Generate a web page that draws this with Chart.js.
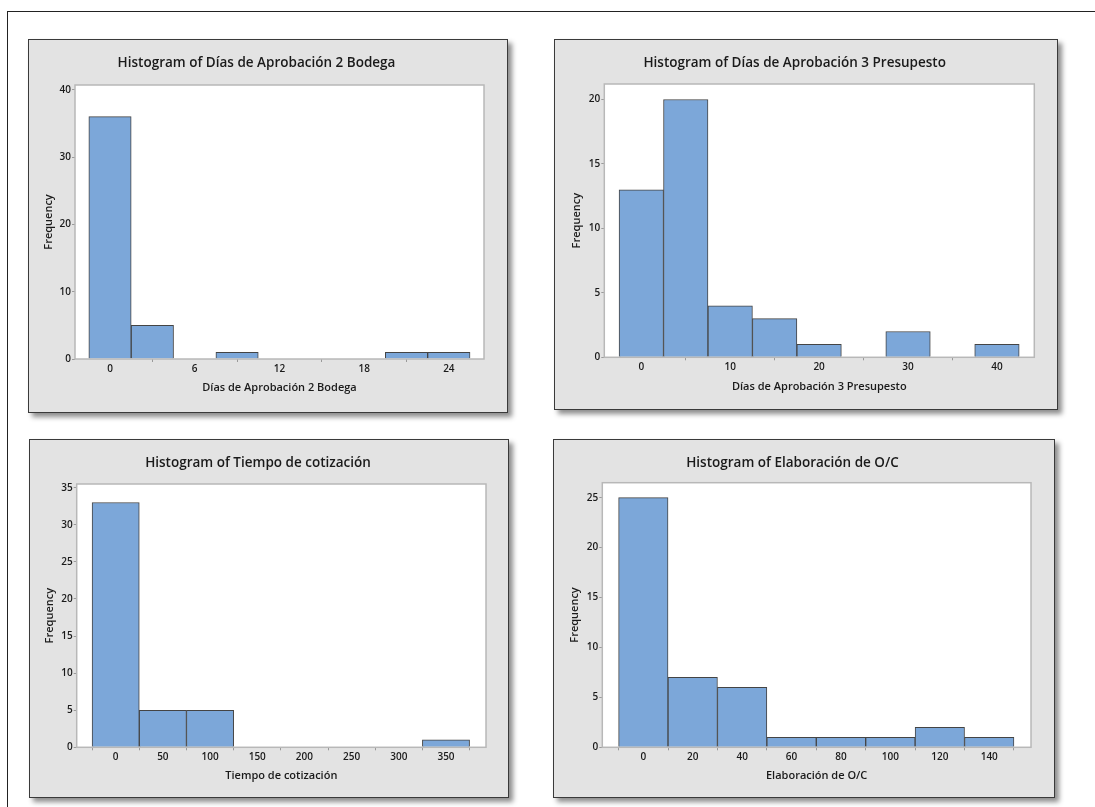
<!DOCTYPE html>
<html>
<head>
<meta charset="utf-8">
<script src="https://cdn.jsdelivr.net/npm/chart.js@4"></script>
<style>
  html, body { margin: 0; padding: 0; background: #fff; }
  body { width: 1095px; height: 807px; position: relative; overflow: hidden; }
  .frame { position: absolute; left: 7px; top: 11px; width: 1100px; height: 810px;
           border-top: 1px solid #222; border-left: 1px solid #222; }
  .panel { position: absolute; background: #e3e3e3; border: 1px solid #3a3a3a;
           box-shadow: 4px 4px 5px rgba(0,0,0,0.45); }
  .panel canvas { display: block; }
</style>
</head>
<body>
<div class="frame"></div>
<div class="panel" style="left:28px;top:39px;"><canvas id="c1" width="478" height="372"></canvas></div>
<div class="panel" style="left:554px;top:39px;"><canvas id="c2" width="502" height="369"></canvas></div>
<div class="panel" style="left:29px;top:439px;"><canvas id="c3" width="478" height="357"></canvas></div>
<div class="panel" style="left:553px;top:439px;"><canvas id="c4" width="500" height="357"></canvas></div>
<script>
// bin midpoints and counts
const binsBodega = [0, 3, 6, 9, 12, 15, 18, 21, 24]
const freqBodega = [36, 5, 0, 1, 0, 0, 0, 1, 1]
const xTicksBodega = [0, 6, 12, 18, 24]
const yTicksBodega = [0, 10, 20, 30, 40]

const binsPresupuesto = [0, 5, 10, 15, 20, 25, 30, 35, 40]
const freqPresupuesto = [13, 20, 4, 3, 1, 0, 2, 0, 1]
const xTicksPresupuesto = [0, 10, 20, 30, 40]
const yTicksPresupuesto = [0, 5, 10, 15, 20]

const binsCotizacion = [0, 50, 100, 150, 200, 250, 300, 350]
const freqCotizacion = [33, 5, 5, 0, 0, 0, 0, 1]
const xTicksCotizacion = [0, 50, 100, 150, 200, 250, 300, 350]
const yTicksCotizacion = [0, 5, 10, 15, 20, 25, 30, 35]

const binsOC = [0, 20, 40, 60, 80, 100, 120, 140]
const freqOC = [25, 7, 6, 1, 1, 1, 2, 1]
const xTicksOC = [0, 20, 40, 60, 80, 100, 120, 140]
const yTicksOC = [0, 5, 10, 15, 20, 25]

const FONT = "'Open Sans', 'Noto Sans', sans-serif"

// white plot area with a light grey frame, like Minitab
const plotFrame = {
  id: 'plotFrame',
  beforeDatasetsDraw(chart) {
    const { ctx, chartArea: a } = chart
    ctx.save()
    ctx.fillStyle = '#fff'
    ctx.fillRect(a.left, a.top, a.right - a.left, a.bottom - a.top)
    ctx.restore()
  },
  afterDatasetsDraw(chart) {
    const { ctx, chartArea: a } = chart
    ctx.save()
    ctx.strokeStyle = '#b8b8b8'
    ctx.lineWidth = 1.5
    ctx.strokeRect(a.left, a.top, a.right - a.left, a.bottom - a.top)
    ctx.restore()
  }
}

const makeHist = (id, cfg) => {
  const data = cfg.bins.map((b, i) => ({ x: b, y: cfg.freq[i] }))
  return new Chart(document.getElementById(id), {
    type: 'bar',
    data: {
      datasets: [{
        data,
        backgroundColor: '#7ca7d9',
        borderColor: '#444',
        borderWidth: 1,
        borderSkipped: 'start',
        barPercentage: 1,
        categoryPercentage: 1
      }]
    },
    options: {
      responsive: false,
      animation: false,
      devicePixelRatio: 1,
      layout: { padding: { left: 0, top: 0, right: cfg.padRight, bottom: 0 } },
      plugins: {
        legend: { display: false },
        tooltip: { enabled: false },
        title: {
          display: true,
          text: cfg.title,
          color: '#1a1a1a',
          font: { family: FONT, size: 13.5, weight: '600', lineHeight: 1.2 },
          padding: { top: cfg.titleY - 8.1, bottom: cfg.plotTop - cfg.titleY - 8.1 }
        }
      },
      scales: {
        x: {
          type: 'linear',
          min: cfg.xMin,
          max: cfg.xMax,
          offset: false,
          afterBuildTicks: s => { s.ticks = cfg.xTicks.map(v => ({ value: v })) },
          afterFit: s => { s.height = cfg.xHeight },
          grid: { drawOnChartArea: false, drawTicks: true, tickLength: 3, color: '#9a9a9a' },
          border: { display: false },
          ticks: { autoSkip: false, maxRotation: 0, padding: 1, color: '#1a1a1a',
                   font: { family: FONT, size: 10, weight: '600' } },
          title: { display: true, text: cfg.xLabel, color: '#1a1a1a',
                   font: { family: FONT, size: 11, weight: '600', lineHeight: 1.2 },
                   padding: { top: 0, bottom: cfg.xTitleOff - 6.6 } }
        },
        y: {
          min: 0,
          max: cfg.yMax,
          afterBuildTicks: s => { s.ticks = cfg.yTicks.map(v => ({ value: v })) },
          afterFit: s => { s.width = cfg.yWidth },
          grid: { drawOnChartArea: false, drawTicks: true, tickLength: 3, color: '#9a9a9a' },
          border: { display: false },
          ticks: { autoSkip: false, padding: 1, color: '#1a1a1a',
                   font: { family: FONT, size: 10, weight: '600' } },
          title: { display: true, text: 'Frequency', color: '#1a1a1a',
                   font: { family: FONT, size: 11, weight: '600', lineHeight: 1.2 },
                   padding: { top: cfg.yTitleX - 6.6, bottom: 0 } }
        }
      }
    },
    plugins: [plotFrame]
  })
}

makeHist('c1', {
  title: 'Histogram of Días de Aprobación 2 Bodega', xLabel: 'Días de Aprobación 2 Bodega',
  bins: binsBodega, freq: freqBodega, xTicks: xTicksBodega, yTicks: yTicksBodega,
  xMin: -2.48, xMax: 26.49, yMax: 40.7,
  yWidth: 46, xHeight: 53, padRight: 23, plotTop: 45, titleY: 23, yTitleX: 20.3, xTitleOff: 23.7
})

makeHist('c2', {
  title: 'Histogram of Días de Aprobación 3 Presupesto', xLabel: 'Días de Aprobación 3 Presupesto',
  bins: binsPresupuesto, freq: freqPresupuesto, xTicks: xTicksPresupuesto, yTicks: yTicksPresupuesto,
  xMin: -4.16, xMax: 44.2, yMax: 21.2,
  yWidth: 49.3, xHeight: 51.7, padRight: 22.7, plotTop: 44, titleY: 23.3, yTitleX: 21.7, xTitleOff: 22.3
})

makeHist('c3', {
  title: 'Histogram of Tiempo de cotización', xLabel: 'Tiempo de cotización',
  bins: binsCotizacion, freq: freqCotizacion, xTicks: xTicksCotizacion, yTicks: yTicksCotizacion,
  xMin: -41.3, xMax: 392.4, yMax: 35.5,
  yWidth: 46.7, xHeight: 49.7, padRight: 22, plotTop: 44, titleY: 22.7, yTitleX: 20, xTitleOff: 21.3
})

makeHist('c4', {
  title: 'Histogram of Elaboración de O/C', xLabel: 'Elaboración de O/C',
  bins: binsOC, freq: freqOC, xTicks: xTicksOC, yTicks: yTicksOC,
  xMin: -16.6, xMax: 156.9, yMax: 26.5,
  yWidth: 48.3, xHeight: 49.7, padRight: 23, plotTop: 42.7, titleY: 22.7, yTitleX: 21, xTitleOff: 21.3
})
</script>
</body>
</html>
